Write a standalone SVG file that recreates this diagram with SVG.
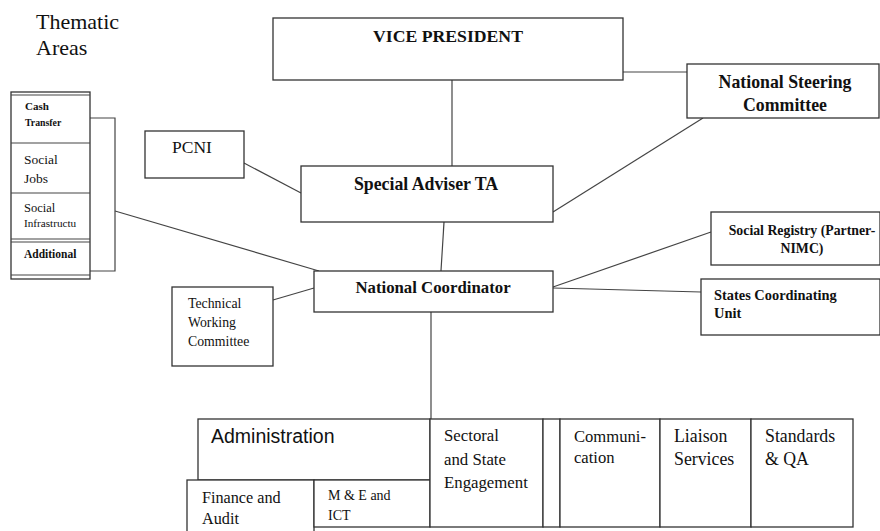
<svg xmlns="http://www.w3.org/2000/svg" width="880" height="531" viewBox="0 0 880 531">
<style>
.box{fill:#fff;stroke:#333;stroke-width:1.3}
.ln{fill:none;stroke:#444;stroke-width:1.2}
text{font-family:"Liberation Serif","Times New Roman",serif;fill:#111}
.b{font-weight:bold}
.c{text-anchor:middle}
</style>
<rect width="880" height="531" fill="#fff"/>
<g id="thematic-title">
<text x="36" y="29" font-size="22">Thematic</text>
<text x="36" y="55" font-size="22">Areas</text>
</g>
<g id="connectors">
<polyline class="ln" points="90,118 115,118 115,271 90,271"/>
<line class="ln" x1="115" y1="211" x2="319" y2="271"/>
<line class="ln" x1="623" y1="72" x2="687" y2="72"/>
<line class="ln" x1="452" y1="80" x2="452" y2="166"/>
<line class="ln" x1="244" y1="163" x2="301" y2="193"/>
<line class="ln" x1="553" y1="212" x2="703" y2="118"/>
<line class="ln" x1="444" y1="222" x2="441" y2="271"/>
<line class="ln" x1="273" y1="300" x2="314" y2="288"/>
<line class="ln" x1="553" y1="287" x2="711" y2="232"/>
<line class="ln" x1="553" y1="288" x2="701" y2="292"/>
<line class="ln" x1="431" y1="312" x2="431" y2="419"/>
</g>
<g id="thematic-areas">
<rect class="box" x="11" y="92" width="79" height="187"/>
<line class="ln" x1="11" y1="95" x2="90" y2="95"/>
<line class="ln" x1="11" y1="143" x2="90" y2="143"/>
<line class="ln" x1="11" y1="193" x2="90" y2="193"/>
<line class="ln" x1="11" y1="239" x2="90" y2="239"/>
<line class="ln" x1="11" y1="242" x2="90" y2="242"/>
<line class="ln" x1="11" y1="275" x2="90" y2="275"/>
<text x="25" y="110" font-size="11" class="b">Cash</text>
<text x="25" y="126" font-size="9.8" class="b">Transfer</text>
<text x="24" y="164" font-size="13.5">Social</text>
<text x="24" y="183" font-size="13.5">Jobs</text>
<text x="24" y="212" font-size="12.5">Social</text>
<text x="24" y="227" font-size="11.2">Infrastructu</text>
<text x="24" y="258" font-size="11.5" class="b">Additional</text>
</g>
<g id="vice-president">
<rect class="box" x="273" y="18" width="350" height="62"/>
<text x="448" y="42" font-size="17.7" class="b c">VICE PRESIDENT</text>
</g>
<g id="national-steering">
<rect class="box" x="687" y="64" width="192" height="54"/>
<text x="785" y="88" font-size="17.8" class="b c">National Steering</text>
<text x="785" y="111" font-size="17.8" class="b c">Committee</text>
</g>
<g id="pcni">
<rect class="box" x="145" y="131" width="99" height="47"/>
<text x="172" y="153" font-size="17.5">PCNI</text>
</g>
<g id="special-adviser">
<rect class="box" x="301" y="166" width="252" height="56"/>
<text x="426" y="190" font-size="17.8" class="b c">Special Adviser TA</text>
</g>
<g id="national-coordinator">
<rect class="box" x="314" y="271" width="239" height="41"/>
<text x="433" y="293" font-size="16.8" class="b c">National Coordinator</text>
</g>
<g id="technical-working">
<rect class="box" x="172" y="287" width="101" height="79"/>
<text x="188" y="308" font-size="13.8">Technical</text>
<text x="188" y="327" font-size="13.8">Working</text>
<text x="188" y="346" font-size="13.8">Committee</text>
</g>
<g id="social-registry">
<rect class="box" x="711" y="212" width="169" height="53"/>
<text x="802" y="235" font-size="13.8" class="b c">Social Registry (Partner-</text>
<text x="802" y="253" font-size="13.8" class="b c">NIMC)</text>
</g>
<g id="states-coordinating">
<rect class="box" x="701" y="279" width="179" height="56"/>
<text x="714" y="300" font-size="14.4" class="b">States Coordinating</text>
<text x="714" y="318" font-size="14.4" class="b">Unit</text>
</g>
<g id="administration">
<rect class="box" x="198" y="419" width="232" height="61"/>
<text x="211" y="443" font-size="19.5" style="font-family:'Liberation Sans',Arial,sans-serif">Administration</text>
</g>
<g id="finance-audit">
<rect class="box" x="187" y="480" width="127" height="60"/>
<text x="202" y="503" font-size="16.2">Finance and</text>
<text x="202" y="524" font-size="16.2">Audit</text>
</g>
<g id="me-ict">
<rect class="box" x="314" y="480" width="116" height="47"/>
<text x="328" y="500" font-size="14">M &amp; E and</text>
<text x="328" y="520" font-size="14">ICT</text>
</g>
<g id="sectoral">
<rect class="box" x="430" y="419" width="113" height="108"/>
<text x="444" y="441" font-size="16.8">Sectoral</text>
<text x="444" y="465" font-size="16.8">and State</text>
<text x="444" y="488" font-size="16.8">Engagement</text>
</g>
<g id="spacer">
<rect class="box" x="543" y="419" width="17" height="108"/>
</g>
<g id="communication">
<rect class="box" x="560" y="419" width="100" height="108"/>
<text x="574" y="442" font-size="16.6">Communi-</text>
<text x="574" y="463" font-size="16.6">cation</text>
</g>
<g id="liaison">
<rect class="box" x="660" y="419" width="91" height="108"/>
<text x="674" y="442" font-size="17.8">Liaison</text>
<text x="674" y="465" font-size="17.8">Services</text>
</g>
<g id="standards">
<rect class="box" x="751" y="419" width="102" height="108"/>
<text x="765" y="442" font-size="17.8">Standards</text>
<text x="765" y="465" font-size="17.8">&amp; QA</text>
</g>
</svg>
